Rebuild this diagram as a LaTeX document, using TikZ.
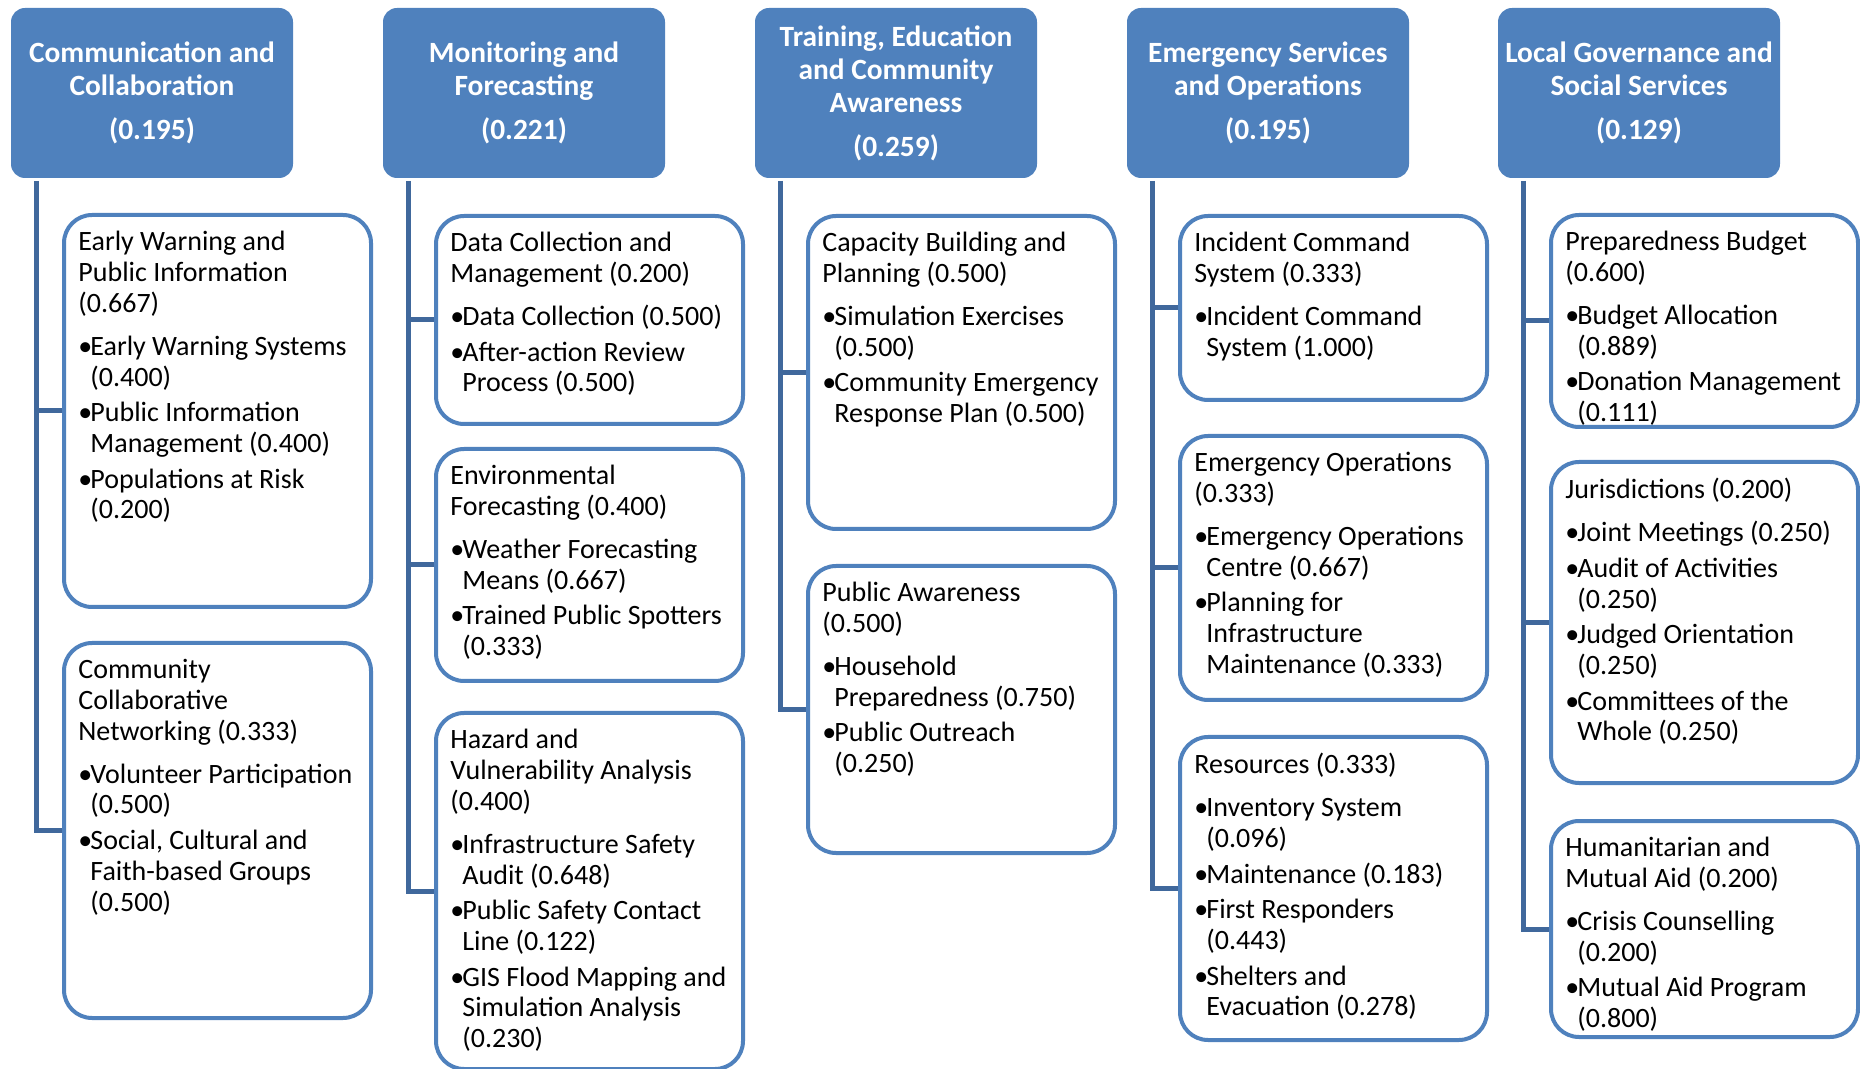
\documentclass[tikz,border=0pt]{standalone}
\usepackage{fontspec}
\setmainfont{Carlito}
\definecolor{hdblue}{RGB}{79,129,189}
\definecolor{lnblue}{RGB}{64,104,156}
\newcommand{\blt}{\makebox[6pt][l]{\textbullet}}
\newcommand{\bhang}{\hspace*{6pt}}

\begin{document}
\begin{tikzpicture}[x=0.5pt, y=-0.5pt,
  head/.style={rectangle, rounded corners=7pt, fill=hdblue, text=white, align=center, minimum width=141pt, minimum height=85pt, font=\bfseries\fontsize{14.7}{16.5}\selectfont},
  subbox/.style={rectangle, rounded corners=14pt, draw=hdblue, line width=2pt, fill=white, minimum width=153.5pt, anchor=north west},
  subtext/.style={anchor=north west, align=left, inner sep=0pt, font=\fontsize{14}{15.4}\selectfont},
  trunk/.style={draw=lnblue, line width=2.5pt}]
\useasboundingbox (0,0) rectangle (1860,1069);

% top level criteria
\node[head] (h1) at (152,93) {Communication and\\Collaboration\\[5.5pt](0.195)};
\node[head] (h2) at (524,93) {Monitoring and\\Forecasting\\[5.5pt](0.221)};
\node[head] (h3) at (896,93) {Training, Education\\and Community\\Awareness\\[5.5pt](0.259)};
\node[head] (h4) at (1268,93) {Emergency Services\\and Operations\\[5.5pt](0.195)};
\node[head] (h5) at (1639,93) {Local Governance and\\Social Services\\[5.5pt](0.129)};

\coordinate (t1) at (36,181);
\coordinate (t2) at (408,181);
\coordinate (t3) at (780,181);
\coordinate (t4) at (1152,181);
\coordinate (t5) at (1523,181);

% column 1
\node[subbox, minimum height=196pt] (c11) at (62,213) {};
\node[subtext] (c11t) at ([xshift=8pt,yshift=-9pt]c11.north west)
  {Early Warning and\\Public Information\\(0.667)\\[6pt]
   \blt Early Warning Systems\\\bhang(0.400)\\[2.4pt]
   \blt Public Information\\\bhang Management (0.400)\\[2.4pt]
   \blt Populations at Risk\\\bhang(0.200)};
\node[subbox, minimum height=187.5pt] (c12) at (62,641) {};
\node[subtext] (c12t) at ([xshift=8pt,yshift=-9pt]c12.north west)
  {Community\\Collaborative\\Networking (0.333)\\[6pt]
   \blt Volunteer Participation\\\bhang(0.500)\\[2.4pt]
   \blt Social, Cultural and\\\bhang Faith-based Groups\\\bhang(0.500)};

% column 2
\node[subbox, minimum height=104pt] (c21) at (434,214) {};
\node[subtext] (c21t) at ([xshift=8pt,yshift=-9pt]c21.north west)
  {Data Collection and\\Management (0.200)\\[6pt]
   \blt Data Collection (0.500)\\[2.4pt]
   \blt After-action Review\\\bhang Process (0.500)};
\node[subbox, minimum height=116pt] (c22) at (434,447) {};
\node[subtext] (c22t) at ([xshift=8pt,yshift=-9pt]c22.north west)
  {Environmental\\Forecasting (0.400)\\[6pt]
   \blt Weather Forecasting\\\bhang Means (0.667)\\[2.4pt]
   \blt Trained Public Spotters\\\bhang(0.333)};
\node[subbox, minimum height=178pt] (c23) at (434,711) {};
\node[subtext] (c23t) at ([xshift=8pt,yshift=-9pt]c23.north west)
  {Hazard and\\Vulnerability Analysis\\(0.400)\\[6pt]
   \blt Infrastructure Safety\\\bhang Audit (0.648)\\[2.4pt]
   \blt Public Safety Contact\\\bhang Line (0.122)\\[2.4pt]
   \blt GIS Flood Mapping and\\\bhang Simulation Analysis\\\bhang(0.230)};

% column 3
\node[subbox, minimum height=156.5pt] (c31) at (806,214) {};
\node[subtext] (c31t) at ([xshift=8pt,yshift=-9pt]c31.north west)
  {Capacity Building and\\Planning (0.500)\\[6pt]
   \blt Simulation Exercises\\\bhang(0.500)\\[2.4pt]
   \blt Community Emergency\\\bhang Response Plan (0.500)};
\node[subbox, minimum height=143.5pt] (c32) at (806,564) {};
\node[subtext] (c32t) at ([xshift=8pt,yshift=-9pt]c32.north west)
  {Public Awareness\\(0.500)\\[6pt]
   \blt Household\\\bhang Preparedness (0.750)\\[2.4pt]
   \blt Public Outreach\\\bhang(0.250)};

% column 4
\node[subbox, minimum height=92pt] (c41) at (1178,214) {};
\node[subtext] (c41t) at ([xshift=8pt,yshift=-9pt]c41.north west)
  {Incident Command\\System (0.333)\\[6pt]
   \blt Incident Command\\\bhang System (1.000)};
\node[subbox, minimum height=132pt] (c42) at (1178,434) {};
\node[subtext] (c42t) at ([xshift=8pt,yshift=-9pt]c42.north west)
  {Emergency Operations\\(0.333)\\[6pt]
   \blt Emergency Operations\\\bhang Centre (0.667)\\[2.4pt]
   \blt Planning for\\\bhang Infrastructure\\\bhang Maintenance (0.333)};
\node[subbox, minimum height=151.5pt] (c43) at (1178,735) {};
\node[subtext] (c43t) at ([xshift=8pt,yshift=-9pt]c43.north west)
  {Resources (0.333)\\[6pt]
   \blt Inventory System\\\bhang(0.096)\\[2.4pt]
   \blt Maintenance (0.183)\\[2.4pt]
   \blt First Responders\\\bhang(0.443)\\[2.4pt]
   \blt Shelters and\\\bhang Evacuation (0.278)};

% column 5
\node[subbox, minimum height=106pt] (c51) at (1549,213) {};
\node[subtext] (c51t) at ([xshift=8pt,yshift=-9pt]c51.north west)
  {Preparedness Budget\\(0.600)\\[6pt]
   \blt Budget Allocation\\\bhang(0.889)\\[2.4pt]
   \blt Donation Management\\\bhang(0.111)};
\node[subbox, minimum height=160.5pt] (c52) at (1549,460) {};
\node[subtext] (c52t) at ([xshift=8pt,yshift=-9pt]c52.north west)
  {Jurisdictions (0.200)\\[6pt]
   \blt Joint Meetings (0.250)\\[2.4pt]
   \blt Audit of Activities\\\bhang(0.250)\\[2.4pt]
   \blt Judged Orientation\\\bhang(0.250)\\[2.4pt]
   \blt Committees of the\\\bhang Whole (0.250)};
\node[subbox, minimum height=108pt] (c53) at (1549,819) {};
\node[subtext] (c53t) at ([xshift=8pt,yshift=-9pt]c53.north west)
  {Humanitarian and\\Mutual Aid (0.200)\\[6pt]
   \blt Crisis Counselling\\\bhang(0.200)\\[2.4pt]
   \blt Mutual Aid Program\\\bhang(0.800)};

% trunks and stubs
\draw[trunk] (t1) |- (c12.west);
\draw[trunk] (c11.west) -- (c11.west -| t1);
\draw[trunk] (t2) |- (c23.west);
\foreach \b in {c21,c22}
  \draw[trunk] (\b.west) -- (\b.west -| t2);
\draw[trunk] (t3) |- (c32.west);
\draw[trunk] (c31.west) -- (c31.west -| t3);
\draw[trunk] (t4) |- (c43.west);
\foreach \b in {c41,c42}
  \draw[trunk] (\b.west) -- (\b.west -| t4);
\draw[trunk] (t5) |- (c53.west);
\foreach \b in {c51,c52}
  \draw[trunk] (\b.west) -- (\b.west -| t5);
\end{tikzpicture}
\end{document}
